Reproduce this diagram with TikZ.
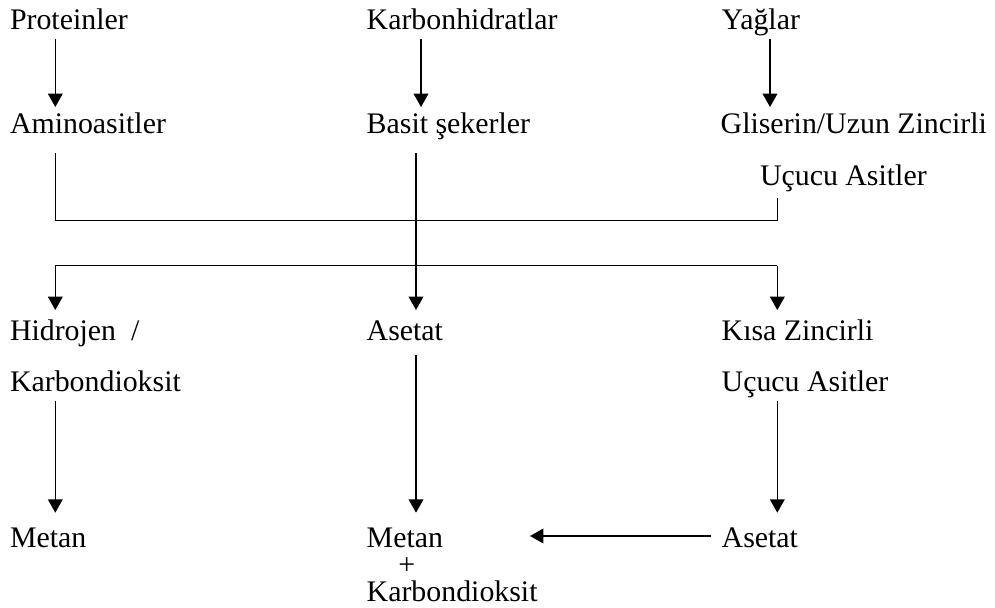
\documentclass[tikz,border=0pt]{standalone}
\usepackage{fontspec}
\setmainfont{Liberation Serif}
\usetikzlibrary{arrows.meta,calc}
\begin{document}
\begin{tikzpicture}[x=0.75pt,y=-0.75pt,
  lbl/.style={anchor=base west,inner sep=0pt,outer sep=0pt,font=\fontsize{22.4pt}{26pt}\selectfont},
  ln/.style={line width=1.1pt},
  arr/.style={line width=1.1pt,-{Triangle[width=11pt,length=10pt]}}]
\useasboundingbox (0,0) rectangle (995,607);
% columns
\coordinate (cA) at (55.3,0);
\coordinate (cB) at (416,0);
\coordinate (cK) at (421,0);
\coordinate (cY) at (770,0);
\coordinate (cD) at (777.3,0);
% row 1
\node[lbl] (prot) at (10,29) {Proteinler};
\node[lbl] (karb) at (366.7,29) {Karbonhidratlar};
\node[lbl] (yag) at (721.7,29) {Yağlar};
% row 2
\node[lbl] (amino) at (10,133) {Aminoasitler};
\node[lbl] (basit) at (366.7,133) {Basit şekerler};
\node[lbl] (glis) at (720.7,133) {Gliserin/Uzun Zincirli};
\node[lbl] (ucucu1) at (760,185) {Uçucu Asitler};
% row 3
\node[lbl] (hidro) at (10,340) {Hidrojen\ \ /};
\node[lbl] (kdo1) at (10,391.7) {Karbondioksit};
\node[lbl] (aset1) at (366.7,340) {Asetat};
\node[lbl] (kisa) at (721.7,340) {Kısa Zincirli};
\node[lbl] (ucucu2) at (721.7,391.7) {Uçucu Asitler};
% row 4
\node[lbl] (metan1) at (10,547) {Metan};
\node[lbl] (metan2) at (366.7,547) {Metan};
\node[lbl] (plus) at (398.4,574) {+};
\node[lbl] (kdo2) at (366.7,601.5) {Karbondioksit};
\node[lbl] (aset2) at (721.7,547) {Asetat};
% junction coordinates
\coordinate (j1) at (0,220.7);
\coordinate (j2) at (0,265.7);
% top arrows
\draw[arr] ($(prot.base -| cA)+(0,10)$) -- ($(amino.base -| cA)+(0,-26)$);
\draw[arr] ($(karb.base -| cK)+(0,10)$) -- ($(basit.base -| cK)+(0,-26)$);
\draw[arr] ($(yag.base -| cY)+(0,10)$) -- ($(glis.base -| cY)+(0,-26)$);
% collecting line
\draw[ln] ($(amino.base -| cA)+(0,20)$) -- (j1 -| cA) -- (j1 -| cD) -- ($(ucucu1.base -| cD)+(0,13.3)$);
% distributing line
\draw[arr] (j2 -| cD) -- (j2 -| cA) -- ($(hidro.base -| cA)+(0,-30)$);
\draw[arr] (j2 -| cD) -- ($(kisa.base -| cD)+(0,-30)$);
\draw[arr] ($(basit.base -| cB)+(0,20)$) -- ($(aset1.base -| cB)+(0,-30)$);
% lower arrows
\draw[arr] ($(kdo1.base -| cA)+(0,9)$) -- ($(metan1.base -| cA)+(0,-34.3)$);
\draw[arr] ($(aset1.base -| cB)+(0,15)$) -- ($(metan2.base -| cB)+(0,-34.3)$);
\draw[arr] ($(ucucu2.base -| cD)+(0,9)$) -- ($(aset2.base -| cD)+(0,-34.3)$);
\draw[arr] ($(aset2.base west)+(-11,-11)$) -- ($(metan2.base west)+(163.3,-11)$);
\end{tikzpicture}
\end{document}
